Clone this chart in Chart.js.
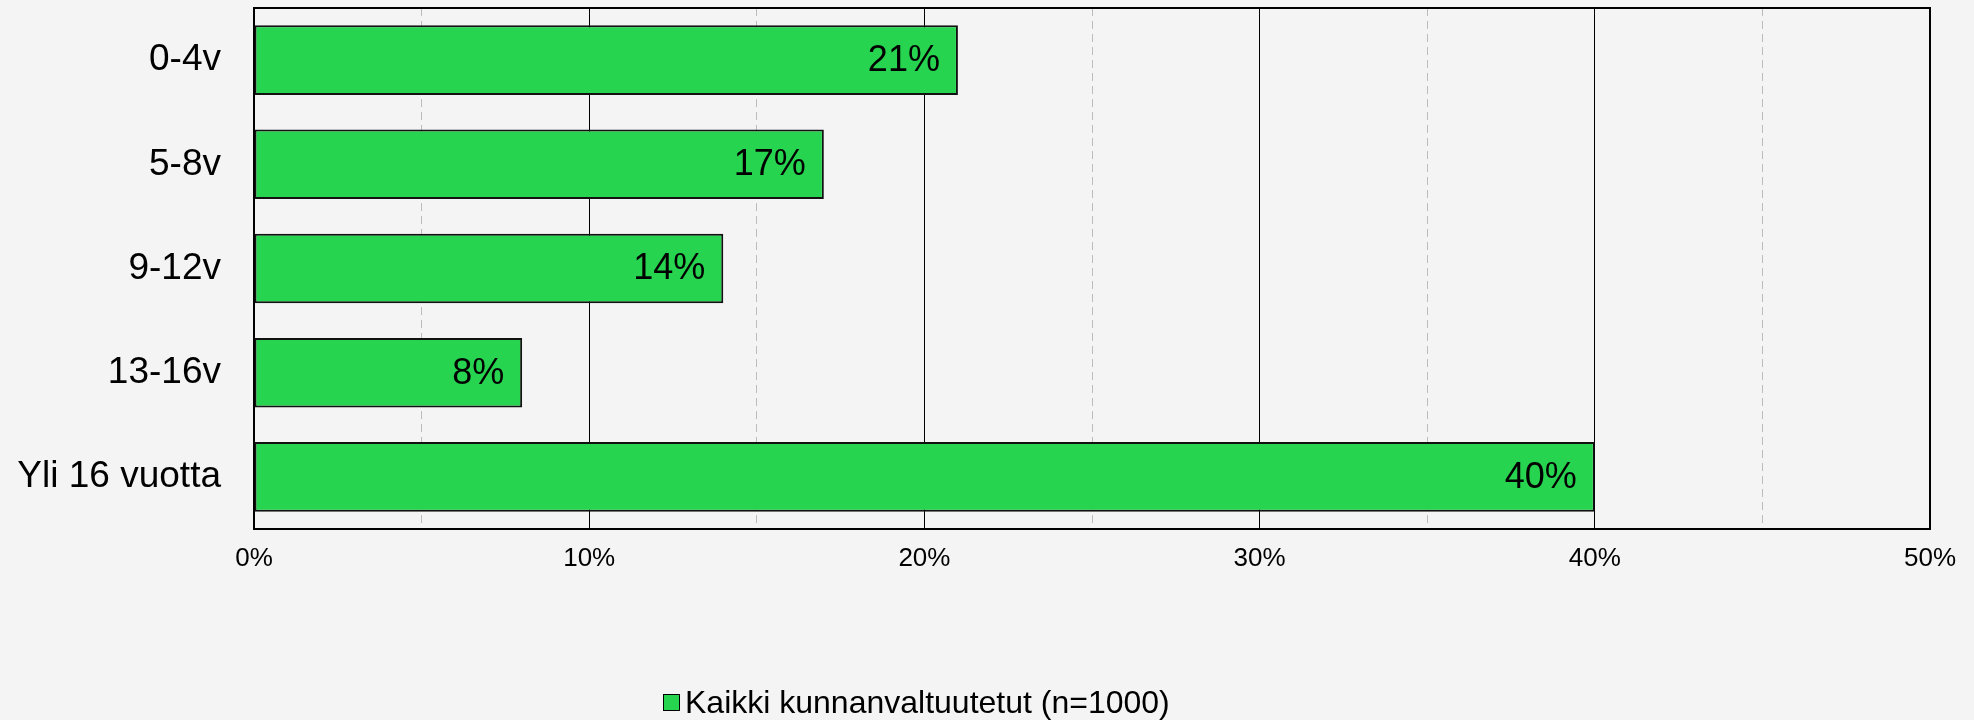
<!DOCTYPE html>
<html>
<head>
<meta charset="utf-8">
<script src="https://cdn.jsdelivr.net/npm/chart.js@4/dist/chart.umd.min.js"></script>
<style>
  html, body { margin: 0; padding: 0; background: #f4f4f4; }
  #wrap { position: relative; width: 1974px; height: 720px; }
  #legend { position: absolute; left: 663px; top: 686px; display: flex; align-items: center;
    font-family: "Liberation Sans", Arial, sans-serif; font-size: 32px; line-height: 32px; color: #000; white-space: nowrap; }
  #legend .box { width: 15px; height: 15px; background: #26D44F; border: 1.5px solid #000; margin-right: 5px; }
</style>
</head>
<body>
<div id="wrap">
  <canvas id="c" width="1974" height="720"></canvas>
  <div id="legend"><span class="box"></span><span id="legendText"></span></div>
</div>
<script>
const categories = ["0-4v", "5-8v", "9-12v", "13-16v", "Yli 16 vuotta"];
const values = [21, 17, 14, 8, 40];
const seriesName = "Kaikki kunnanvaltuutetut (n=1000)";
const xTicks = [0, 10, 20, 30, 40, 50];

document.getElementById('legendText').textContent = seriesName;

const FONT = '"Liberation Sans", Arial, sans-serif';

const boxPlugin = {
  id: 'box',
  afterDraw(chart) {
    const a = chart.chartArea, ctx = chart.ctx;
    ctx.save();
    ctx.strokeStyle = '#000';
    ctx.lineWidth = 2;
    ctx.strokeRect(a.left, a.top, a.right - a.left, a.bottom - a.top);
    ctx.restore();
  }
};

const labelPlugin = {
  id: 'vals',
  afterDatasetsDraw(chart) {
    const ctx = chart.ctx;
    const meta = chart.getDatasetMeta(0);
    ctx.save();
    ctx.font = '36px ' + FONT;
    ctx.fillStyle = '#000';
    ctx.textAlign = 'right';
    ctx.textBaseline = 'middle';
    meta.data.forEach((bar, i) => {
      ctx.fillText(values[i] + '%', bar.x - 18, bar.y + 1);
    });
    ctx.restore();
  }
};

new Chart(document.getElementById('c'), {
  type: 'bar',
  data: {
    labels: categories,
    datasets: [{
      label: seriesName,
      data: values,
      backgroundColor: '#26D44F',
      borderColor: '#111',
      borderWidth: 2,
      borderSkipped: false,
      barPercentage: 0.668,
      categoryPercentage: 1
    }]
  },
  options: {
    indexAxis: 'y',
    responsive: false,
    animation: false,
    layout: { padding: { top: 8, right: 44, left: 0, bottom: 0 } },
    plugins: { legend: { display: false }, tooltip: { enabled: false } },
    scales: {
      x: {
        min: 0, max: 50,
        afterFit(s) { s.height = 191; },
        afterBuildTicks(s) {
          const t = [];
          for (let v = 0; v <= 50; v += 5) t.push({ value: v });
          s.ticks = t;
        },
        ticks: {
          autoSkip: false, maxRotation: 0, padding: 14,
          color: '#000',
          font: { family: FONT, size: 26 },
          callback: (v) => xTicks.includes(v) ? v + '%' : ''
        },
        grid: {
          drawTicks: false,
          lineWidth: 1,
          color: (c) => (c.tick && c.tick.value % 10 !== 0) ? '#bcbcbc' : '#000'
        },
        border: {
          display: true, color: '#000', width: 2,
          dash: (c) => (c.tick && c.tick.value % 10 !== 0) ? [8, 5] : []
        }
      },
      y: {
        afterFit(s) { s.width = 254; s.paddingTop = 0; s.paddingBottom = 0; },
        ticks: {
          padding: 33,
          color: '#000',
          font: { family: FONT, size: 37 }
        },
        grid: { display: false, drawTicks: false },
        border: { display: true, color: '#000', width: 2 }
      }
    }
  },
  plugins: [boxPlugin, labelPlugin]
});
</script>
</body>
</html>
